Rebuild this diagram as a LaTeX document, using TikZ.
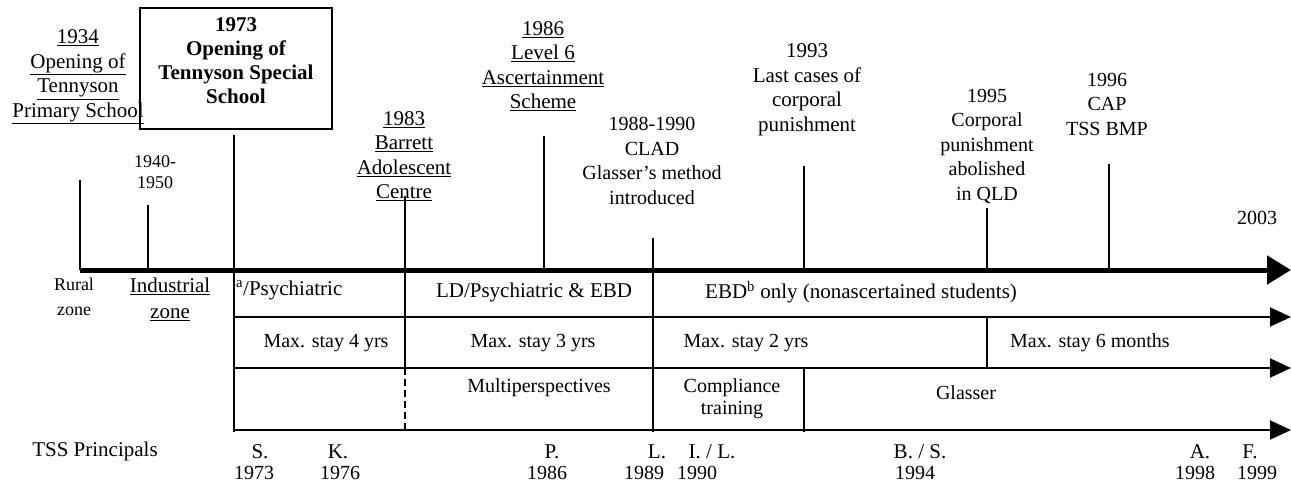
\documentclass[tikz,border=0pt]{standalone}
\usepackage{fontspec}
\setmainfont{Liberation Serif}
\usetikzlibrary{arrows.meta}
\tikzset{
  g/.style={font=\fontsize{20}{24.5}\selectfont, align=center, inner sep=0pt},
  gw/.style={font=\fontsize{21}{24.5}\selectfont, align=center, inner sep=0pt},
  gs/.style={font=\fontsize{18}{21}\selectfont, align=center, inner sep=0pt},
  tt/.style={font=\fontsize{21}{24.5}\selectfont, align=center, inner sep=0pt},
  tb/.style={font=\fontsize{21}{24}\selectfont\bfseries, align=center, inner sep=0pt},
  tick/.style={line width=2pt},
  mainaxis/.style={line width=5pt, -{Triangle[length=24pt,width=28pt]}},
  rowarrow/.style={line width=2pt, -{Triangle[length=21pt,width=19pt]}},
}
\begin{document}
\begin{tikzpicture}[x=1pt,y=-1pt]
\useasboundingbox (0,0) rectangle (1291,485);
% coordinates
\coordinate (axL) at (80,270);
\coordinate (axR) at (1291,270);
\coordinate (r1L) at (234,317);
\coordinate (r1R) at (1291,317);
\coordinate (r2L) at (234,368);
\coordinate (r2R) at (1291,368);
\coordinate (r3L) at (234,430);
\coordinate (r3R) at (1291,430);
\coordinate (k34t) at (80,180);
\coordinate (k34b) at (80,270);
\coordinate (k40t) at (148,205);
\coordinate (k40b) at (148,270);
\coordinate (k73t) at (234,135);
\coordinate (k73b) at (234,432);
\coordinate (k83t) at (405,196);
\coordinate (k83m) at (405,368);
\coordinate (k83b) at (405,432);
\coordinate (k86t) at (544,136);
\coordinate (k86b) at (544,270);
\coordinate (k88t) at (653,238);
\coordinate (k88b) at (653,432);
\coordinate (k93t) at (804,166);
\coordinate (k93b) at (804,270);
\coordinate (k93m) at (804,368);
\coordinate (k93e) at (804,432);
\coordinate (k95t) at (987,208);
\coordinate (k95b) at (987,270);
\coordinate (k95m) at (987,317);
\coordinate (k95e) at (987,368);
\coordinate (k96t) at (1109,164);
\coordinate (k96b) at (1109,270);

% vertical lines
\draw[tick] (k34t) -- (k34b);
\draw[tick] (k40t) -- (k40b);
\draw[tick] (k73t) -- (k73b);
\draw[tick] (k83t) -- (k83m);
\draw[tick, dash pattern=on 7pt off 4pt] (k83m) -- (k83b);
\draw[tick] (k86t) -- (k86b);
\draw[tick] (k88t) -- (k88b);
\draw[tick] (k93t) -- (k93b);
\draw[tick] (k93m) -- (k93e);
\draw[tick] (k95t) -- (k95b);
\draw[tick] (k95m) -- (k95e);
\draw[tick] (k96t) -- (k96b);

% horizontal axes
\draw[mainaxis] (axL) -- (axR);
\draw[rowarrow] (r1L) -- (r1R);
\draw[rowarrow] (r2L) -- (r2R);
\draw[rowarrow] (r3L) -- (r3R);

% top labels
\node[tt] (t1934) at (78,77) {\underline{1934}\\ \underline{Opening of}\\ \underline{Tennyson}\\ \underline{Primary School}};
\node[gs] (t1940) at (155,172) {1940-\\1950};
\node[draw, line width=2.5pt, minimum width=192pt, minimum height=121pt, inner sep=0pt] (box73) at (236,68.5) {};
\node[tb] (t1973) at (236,61) {1973\\Opening of\\Tennyson Special\\School};
\node[tt] (t1983) at (404,156) {\underline{1983}\\ \underline{Barrett}\\ \underline{Adolescent}\\ \underline{Centre}};
\node[tt] (t1986) at (543,66) {\underline{1986}\\ \underline{Level 6}\\ \underline{Ascertainment}\\ \underline{Scheme}};
\node[g] (t1988) at (652,161) {1988-1990\\CLAD\\Glasser's method\\introduced};
\node[gw] (t1993) at (807,90) {1993\\Last cases of\\corporal\\punishment};
\node[g] (t1995) at (987,146) {1995\\Corporal\\punishment\\abolished\\in QLD};
\node[g] (t1996) at (1107,104) {1996\\CAP\\TSS BMP};
\node[g] (t2003) at (1257,218) {2003};

% row 1
\node[gs, font=\fontsize{18}{25}\selectfont] (rural) at (74,297) {Rural\\zone};
\node[tt, font=\fontsize{21}{26}\selectfont] (indus) at (170,299) {\underline{Industrial}\\ \underline{zone}};
\node[tt, anchor=west] (psych) at (236,290) {\textsuperscript{a}/Psychiatric};
\node[gw] (ld) at (534,292) {LD/Psychiatric \& EBD};
\node[gw, anchor=west] (ebd) at (705,292) {EBD\textsuperscript{b} only (nonascertained students)};
% row 2
\node[g] (max4) at (326,343) {Max. stay 4 yrs};
\node[g] (max3) at (533,343) {Max. stay 3 yrs};
\node[g] (max2) at (746,343) {Max. stay 2 yrs};
\node[g, anchor=west] (max6) at (1010,343) {Max. stay 6 months};
% row 3
\node[g] (multi) at (539,388) {Multiperspectives};
\node[g, font=\fontsize{20}{22}\selectfont] (compl) at (732,399) {Compliance\\training};
\node[g] (glas) at (966,393) {Glasser};

% principals
\node[tt] (tssp) at (95,451) {TSS Principals};
\node[tt] (pS) at (260,452) {S.};
\node[tt] (pK) at (338,452) {K.};
\node[tt] (pP) at (552,452) {P.};
\node[tt] (pL) at (657,452) {L.};
\node[tt] (pIL) at (712,452) {I. / L.};
\node[tt] (pBS) at (920,452) {B. / S.};
\node[tt] (pA) at (1200,452) {A.};
\node[tt] (pF) at (1250,452) {F.};
\node[g] (y73) at (254,473) {1973};
\node[g] (y76) at (340,473) {1976};
\node[g] (y86) at (547,473) {1986};
\node[g] (y89) at (644,473) {1989};
\node[g] (y90) at (697,473) {1990};
\node[g] (y94) at (915,473) {1994};
\node[g] (y98) at (1195,473) {1998};
\node[g] (y99) at (1257,473) {1999};
\end{tikzpicture}
\end{document}
